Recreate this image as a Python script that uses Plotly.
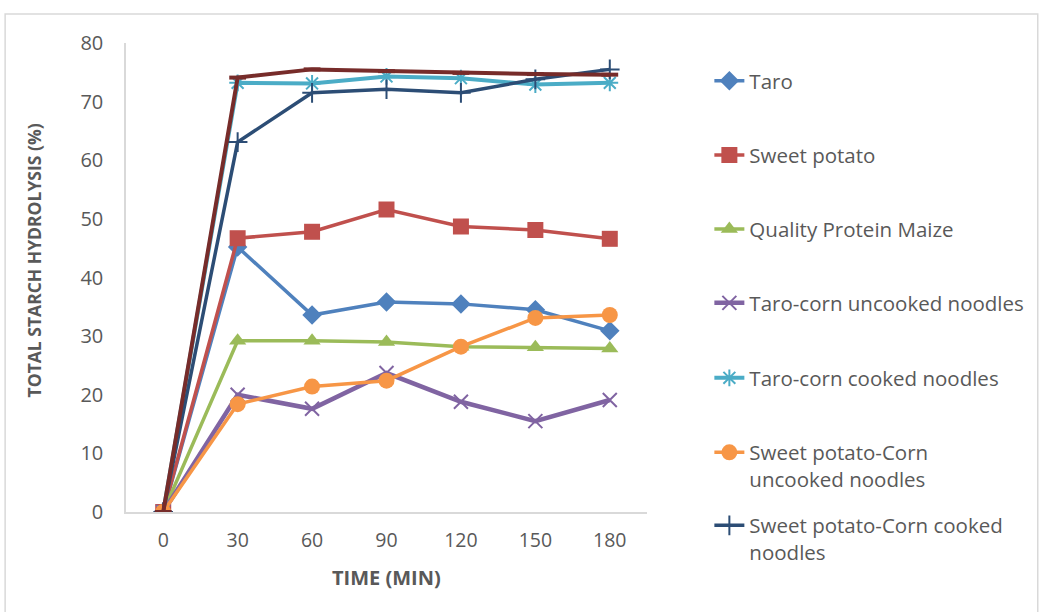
import plotly.graph_objects as go

time_labels = ["0", "30", "60", "90", "120", "150", "180"]

taro = [0, 45.2, 33.6, 35.8, 35.5, 34.5, 30.9]
sweet_potato = [0, 46.7, 47.8, 51.6, 48.7, 48.1, 46.6]
qpm = [0, 29.2, 29.2, 29.0, 28.2, 28.1, 27.9]
taro_corn_uncooked = [0, 20.0, 17.6, 23.7, 18.8, 15.5, 19.1]
taro_corn_cooked = [0, 73.2, 73.1, 74.3, 74.0, 72.9, 73.2]
sp_corn_uncooked = [0, 18.4, 21.4, 22.4, 28.2, 33.1, 33.6]
sp_corn_cooked = [0, 63.1, 71.5, 72.1, 71.5, 73.8, 75.5]
extra_series = [0, 74.1, 75.5, 75.2, 74.9, 74.7, 74.6]

names = [
    "Taro",
    "Sweet potato",
    "Quality Protein Maize",
    "Taro-corn uncooked noodles",
    "Taro-corn cooked noodles",
    "Sweet potato-Corn<br>uncooked noodles",
    "Sweet potato-Corn cooked<br>noodles",
]
x_title = "TIME (MIN)"
y_title = "TOTAL STARCH HYDROLYSIS (%)"

FONT = "Open Sans"
GREY = "#595959"

fig = go.Figure()

specs = [
    (taro, names[0], "#4F81BD", "diamond", 15, 3.5, "legend"),
    (sweet_potato, names[1], "#C0504D", "square", 16, 3.5, "legend2"),
    (qpm, names[2], "#9BBB59", "triangle-up", 15, 3.5, "legend3"),
    (taro_corn_uncooked, names[3], "#8064A2", "x-thin-open", 14, 4.5, "legend4"),
    (taro_corn_cooked, names[4], "#4BACC6", "asterisk-open", 14, 4, "legend5"),
    (sp_corn_uncooked, names[5], "#F79646", "circle", 16, 3.5, "legend6"),
    (sp_corn_cooked, names[6], "#2C4D75", "cross-thin-open", 14, 3.5, "legend7"),
]

for vals, name, color, sym, size, lw, leg in specs:
    open_sym = sym.endswith("-open")
    fig.add_trace(go.Scatter(
        x=time_labels, y=vals, name=name, mode="lines+markers",
        line=dict(color=color, width=lw),
        marker=dict(symbol=sym, size=size, color=color,
                    line=dict(color=color, width=2 if open_sym else 0)),
        legend=leg,
    ))

fig.add_trace(go.Scatter(
    x=time_labels, y=extra_series, name="", mode="lines+markers",
    line=dict(color="#772C2A", width=4),
    marker=dict(symbol="line-ew-open", size=12, color="#772C2A",
                line=dict(color="#772C2A", width=4)),
    showlegend=False,
))

leg_y = [0.919, 0.761, 0.603, 0.4456, 0.2857, 0.098, -0.0576]
layout_legends = {}
for i, yy in enumerate(leg_y):
    key = "legend" if i == 0 else f"legend{i+1}"
    layout_legends[key] = dict(
        x=1.1197, xanchor="left", y=yy, yanchor="middle",
        font=dict(family=FONT, size=20.5, color=GREY),
        bgcolor="rgba(0,0,0,0)", valign="top",
    )

fig.update_layout(
    width=1041, height=612,
    margin=dict(l=126, r=389, t=43, b=100),
    paper_bgcolor="white", plot_bgcolor="white",
    font=dict(family=FONT, color=GREY),
    **layout_legends,
)

fig.update_xaxes(
    type="category", range=[-0.5, 6.5],
    showline=True, linecolor="#D9D9D9", linewidth=1.5,
    showgrid=False, ticks="", zeroline=False,
    tickfont=dict(family=FONT, size=19.5, color=GREY),
    ticklabelstandoff=10,
)
fig.update_yaxes(
    range=[0, 80], dtick=10,
    showline=True, linecolor="#D9D9D9", linewidth=1.5,
    showgrid=False, ticks="", zeroline=False,
    tickfont=dict(family=FONT, size=20, color=GREY),
    ticklabelstandoff=17,
)

fig.add_annotation(text=f"<b>{x_title}</b>", xref="paper", yref="paper",
                   x=0.5, y=-0.1386, xanchor="center", yanchor="middle",
                   showarrow=False, font=dict(family=FONT, size=20, color=GREY))
fig.add_annotation(text=f"<b>{y_title}</b>", xref="paper", yref="paper",
                   x=-0.1768, y=0.5362, xanchor="center", yanchor="middle",
                   textangle=-90, showarrow=False,
                   font=dict(family=FONT, size=17.5, color=GREY))

fig.add_shape(type="rect", xref="paper", yref="paper",
              x0=-0.232, x1=1.75, y0=-0.24, y1=1.062,
              line=dict(color="#D9D9D9", width=1.5), fillcolor="rgba(0,0,0,0)", layer="below")

fig.write_html("out.html", config={"displayModeBar": False},
               post_script="document.body.style.margin='0px';")
